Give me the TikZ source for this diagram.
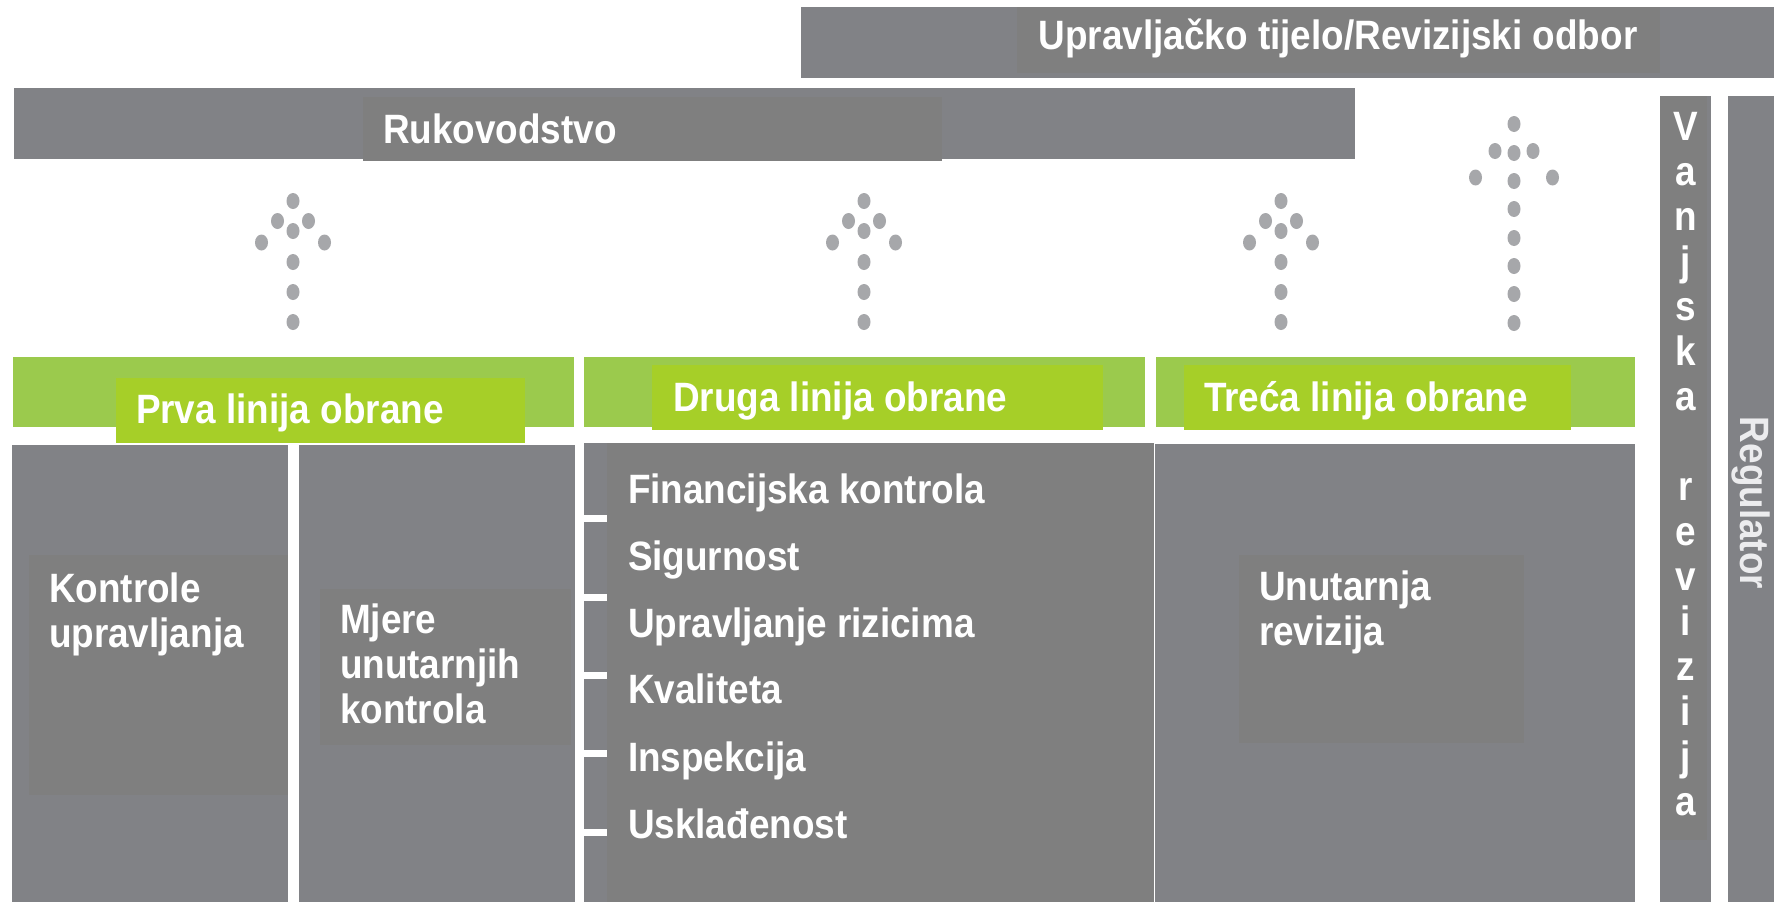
\documentclass[tikz,border=0pt]{standalone}
\usepackage{fontspec}
\setmainfont{Liberation Sans}[FakeStretch=0.9]
\definecolor{outerg}{HTML}{818286}
\definecolor{innerg}{HTML}{7F7F7F}
\definecolor{greenout}{HTML}{9BCA4D}
\definecolor{greenin}{HTML}{A6CF28}
\definecolor{dotc}{HTML}{A6A7AA}
\definecolor{regtext}{HTML}{ECECEE}
\newcommand\smallarr[1]{%
  \foreach \dx/\dy in {0/201,-15.5/221,15.5/221,0/231,-31.5/242.5,31.5/242.5,0/262,0/292,0/322}
    \fill[dotc] ({#1+\dx},\dy) ellipse [x radius=6.5, y radius=8];}
\begin{document}
\begin{tikzpicture}[x=1pt,y=-1pt,
  lab/.style={inner sep=0pt, outer sep=0pt, text=white, font=\fontsize{41}{45}\selectfont\bfseries},
  lw/.style={lab, anchor=base west}]
\useasboundingbox (0,0) rectangle (1774,902);
\fill[white] (0,0) rectangle (1774,902);
% top bar
\fill[outerg] (801,7) rectangle (1774,78);
\fill[innerg] (1017,7) rectangle (1660,73);
\node[lab, anchor=base] (upr) at (1338,49) {Upravljačko tijelo/Revizijski odbor};
% Rukovodstvo
\fill[outerg] (14,88) rectangle (1355,159);
\fill[innerg] (363,97) rectangle (942,161);
\node[lw] (ruk) at (383,143) {Rukovodstvo};
% side columns
\fill[outerg] (1660,96) rectangle (1711,902);
\fill[innerg] (1660,96) rectangle (1707,840);
\fill[outerg] (1728,96) rectangle (1774,902);
\foreach \c [count=\i from 0] in {V,a,n,j,s,k,a,{},r,e,v,i,z,i,j,a}
  \node[lab, anchor=base] (vr\i) at (1686,{140+45*\i}) {\c};
\node[lab, text=regtext, rotate=-90, anchor=center] (reg) at (1751,503) {Regulator};
% dotted arrows
\smallarr{293}
\smallarr{864}
\smallarr{1281}
\foreach \dx/\dy in {0/124,-19/151,19/151,0/153,-38.5/177.5,38.5/177.5,0/181,0/209,0/238,0/266,0/294,0/323}
  \fill[dotc] ({1514+\dx},\dy) ellipse [x radius=6.5, y radius=8];
% green bars
\fill[greenout] (12.5,357) rectangle (574,427);
\fill[greenout] (584,357) rectangle (1145,427);
\fill[greenout] (1156,357) rectangle (1635,427);
% gray columns
\fill[outerg] (11.5,445) rectangle (288,902);
\fill[outerg] (298.5,445) rectangle (575,902);
\fill[outerg] (584,443) rectangle (1145,902);
\fill[outerg] (1155,444) rectangle (1635,902);
% green labels
\fill[greenin] (116,378) rectangle (525,443);
\node[lw] (prva) at (136,423) {Prva linija obrane};
\fill[greenin] (652,365) rectangle (1103,430);
\node[lw] (druga) at (673,411) {Druga linija obrane};
\fill[greenin] (1184,365) rectangle (1571,430);
\node[lw] (treca) at (1204,411) {Treća linija obrane};
% column 1
\fill[innerg] (29,555) rectangle (288,795);
\node[lw] (ku1) at (49,602) {Kontrole};
\node[lw] (ku2) at (49,647) {upravljanja};
\fill[innerg] (320,589) rectangle (571,745);
\node[lw] (mu1) at (340,633) {Mjere};
\node[lw] (mu2) at (340,678) {unutarnjih};
\node[lw] (mu3) at (340,723) {kontrola};
% column 2
\fill[innerg] (607,443) rectangle (1154,902);
\foreach \ty in {518,597,675,753,832}
  \fill[white] (584,{\ty-3.5}) rectangle (607,{\ty+3.5});
\node[lw] (f1) at (628,503) {Financijska kontrola};
\node[lw] (f2) at (628,570) {Sigurnost};
\node[lw] (f3) at (628,637) {Upravljanje rizicima};
\node[lw] (f4) at (628,703) {Kvaliteta};
\node[lw] (f5) at (628,771) {Inspekcija};
\node[lw] (f6) at (628,838) {Usklađenost};
% column 3
\fill[innerg] (1239,555) rectangle (1524,743);
\node[lw] (ur1) at (1259,600) {Unutarnja};
\node[lw] (ur2) at (1259,645) {revizija};
\end{tikzpicture}
\end{document}
